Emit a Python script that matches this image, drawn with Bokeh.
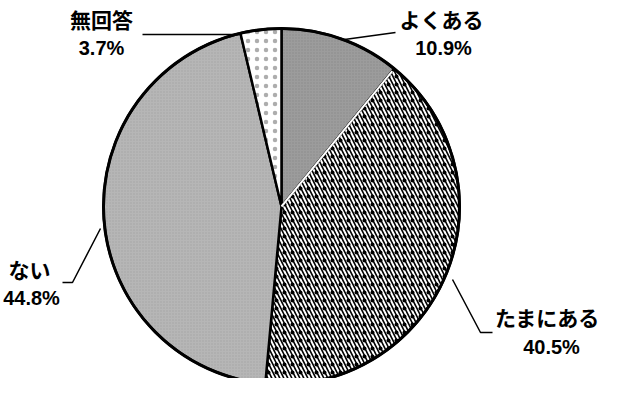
import numpy as np
from bokeh.plotting import figure
from bokeh.models import Range1d, ColumnDataSource
from bokeh.core.properties import value
from bokeh.embed import file_html
from bokeh.resources import INLINE

# ---- data ----
categories = ["よくある", "たまにある", "ない", "無回答"]
percents = [10.9, 40.5, 44.8, 3.7]
pct_labels = ["10.9%", "40.5%", "44.8%", "3.7%"]

# ---- styles / layout (image px coords, y measured from top) ----
fills = ["#9c9c9c", "#ffffff", "#b6b6b6", "#ffffff"]
hatches = ["dot", "left_diagonal_line", "dot", "dot"]
hatch_scales = [3, 8, 3, 9]
hatch_weights = [1, 1.6, 1, 0.5]
hatch_colors = ["#7a7a7a", "#000000", "#999999", "#8a8a8a"]
hatch_alphas = [0.6, 1.0, 0.6, 0.7]
name_pos = [(449, 26), (555, 324), (37, 276), (109, 26)]
pct_pos = [(451, 55), (559, 354), (39, 305), (109, 55)]
leaders = [
    [(352, 47), (403, 40)],
    [(460, 287), (488, 340), (500, 340)],
    [(108, 236), (80, 290), (70, 290)],
    [(247, 42), (150, 42)],
]

W, H = 603, 378
CX, CY, R = 289, 214, 178


def fy(yimg):
    return 394 - yimg


p = figure(width=W, height=H, output_backend="svg", toolbar_location=None,
           x_range=Range1d(8, 611), y_range=Range1d(8, 386), min_border=0)
p.axis.visible = False
p.grid.visible = False
p.outline_line_color = None
p.background_fill_color = "white"
p.border_fill_color = "white"

frac = np.array(percents) / np.sum(percents)
cum = np.concatenate([[0], np.cumsum(frac)])
start = np.pi / 2 - cum[:-1] * 2 * np.pi
end = np.pi / 2 - cum[1:] * 2 * np.pi

src = ColumnDataSource(dict(start=start, end=end, fill=fills, hatch=hatches,
                            hs=hatch_scales, hw=hatch_weights, hc=hatch_colors,
                            ha=hatch_alphas))
p.wedge(x=CX, y=fy(CY), radius=R, start_angle="start", end_angle="end",
        direction="clock", fill_color="fill", hatch_pattern="hatch",
        hatch_scale="hs", hatch_weight="hw", hatch_color="hc",
        hatch_alpha="ha", line_color="black", line_width=2.5, source=src)

# dots between hatch lines of たまにある
p.wedge(x=CX, y=fy(CY), radius=R, start_angle=start[1], end_angle=end[1],
        direction="clock", fill_alpha=0, hatch_pattern="dot", hatch_scale=8,
        hatch_weight=2, hatch_color="black", line_color=None)

# white boundary between よくある and たまにある
p.ray(x=CX, y=fy(CY), length=R - 3, angle=end[0], line_color="white",
      line_width=2)

# outer outline
p.circle(x=CX, y=fy(CY), radius=R, fill_alpha=0, line_color="black",
         line_width=3)

for pts in leaders:
    p.line([q[0] for q in pts], [fy(q[1]) for q in pts], line_color="black",
           line_width=1.5)

p.text(x=[q[0] for q in name_pos], y=[fy(q[1]) for q in name_pos],
       text=categories, text_align="center", text_baseline="middle",
       text_font=value("Noto Sans CJK JP"), text_font_size="21px",
       text_font_style="bold", text_color="black")
p.text(x=[q[0] for q in pct_pos], y=[fy(q[1]) for q in pct_pos],
       text=pct_labels, text_align="center", text_baseline="middle",
       text_font=value("Liberation Sans"), text_font_size="20px",
       text_font_style="bold", text_color="black")

open("out.html", "w").write(file_html(p, INLINE))
